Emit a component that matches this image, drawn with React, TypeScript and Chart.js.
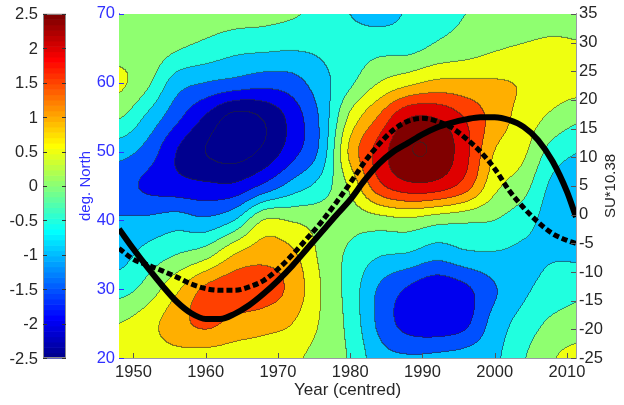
import React, { useEffect, useRef } from 'react';
import { Chart, registerables } from 'chart.js';

Chart.register(...registerables);

// ---------- data ----------
// grid of the contoured field (columns = years, rows = latitude)
const YEARS = [1948, 1952, 1956, 1960, 1964, 1968, 1972, 1976, 1980, 1984, 1988, 1992, 1996, 2000, 2004, 2008, 2012];
const LATS = [70, 65, 60, 55, 50, 45, 40, 35, 30, 25, 20];

const F70 = [0.25, 0.3, 0.3, 0.25, 0.2, 0.15, 0.05, -0.15, -0.5, -0.65, -0.45, -0.15, 0.0, 0.2, 0.25, 0.3, 0.3];
const F65 = [0.3, 0.3, 0.05, -0.15, -0.35, -0.4, -0.45, -0.4, -0.25, -0.15, -0.15, 0.1, 0.25, 0.45, 0.55, 0.6, 0.55];
const F60 = [0.6, 0.1, -0.75, -1.0, -1.15, -1.3, -1.2, -0.7, -0.1, 0.5, 0.85, 1.1, 1.1, 1.05, 0.95, 0.75, 0.7];
const F55 = [0.05, -0.6, -1.35, -2.05, -2.65, -2.45, -1.8, -0.9, 0.6, 1.55, 2.45, 2.45, 1.95, 1.3, 0.8, 0.4, 0.1];
const F50 = [-0.8, -1.2, -2.0, -2.5, -2.7, -2.4, -1.7, -0.85, 1.1, 2.2, 2.95, 2.9, 2.15, 1.0, 0.6, -0.2, -0.5];
const F45 = [-1.3, -1.6, -1.8, -1.9, -1.9, -1.4, -0.8, -0.3, 0.6, 1.85, 2.35, 2.3, 1.75, 0.65, 0.2, -0.6, -0.75];
const F40 = [-0.95, -0.9, -0.75, -0.9, -0.5, 0.5, 0.45, 0.3, 0.2, 0.3, 0.4, 0.2, 0.1, 0.0, -0.3, -0.7, -0.8];
const F35 = [-0.7, -0.3, 0.0, 0.3, 1.0, 1.3, 1.1, 0.4, -0.1, -0.45, -0.55, -0.8, -0.6, -0.55, -0.6, -0.55, -0.6];
const F30 = [-0.2, 0.2, 0.9, 1.6, 1.8, 1.75, 1.35, 0.5, -0.2, -1.05, -1.55, -1.85, -1.6, -1.05, -0.6, -0.3, -0.1];
const F25 = [0.5, 0.8, 1.3, 1.6, 1.35, 1.2, 1.0, 0.45, -0.15, -1.1, -1.7, -1.85, -1.6, -0.8, -0.3, 0.1, 0.2];
const F20 = [0.8, 0.8, 0.85, 0.8, 0.75, 0.7, 0.6, 0.3, -0.05, -0.8, -0.95, -0.9, -0.8, -0.6, -0.05, 0.45, 0.7];
const FIELD = [F70, F65, F60, F55, F50, F45, F40, F35, F30, F25, F20];

// SU index curves (right axis)
const LINE_YEARS = [1948, 1950, 1952, 1954, 1956, 1958, 1960, 1962, 1964, 1966, 1968, 1970, 1972, 1974, 1976, 1978,
  1980, 1982, 1984, 1986, 1988, 1990, 1992, 1994, 1996, 1998, 2000, 2002, 2004, 2006, 2008, 2010, 2011.25];
const SOLID = [-2.5, -6.0, -9.3, -12.4, -15.2, -17.2, -18.2, -18.2, -17.3, -15.8, -13.8, -11.5, -8.9, -6.0, -3.1, -0.2,
  2.6, 6.0, 8.9, 11.0, 12.5, 14.0, 15.2, 16.0, 16.6, 17.0, 17.0, 16.5, 15.3, 13.0, 9.3, 4.0, -0.4];
const DASHED = [-5.9, -7.8, -8.8, -9.8, -10.9, -12.1, -12.9, -13.2, -13.2, -12.6, -11.5, -9.5, -7.0, -4.2, -1.3, 2.0,
  5.5, 9.2, 12.3, 14.8, 16.3, 16.8, 16.3, 15.2, 13.3, 11.0, 8.0, 4.2, 1.2, -1.3, -3.3, -4.5, -5.0];

const X_TICKS = [1950, 1960, 1970, 1980, 1990, 2000, 2010];
const LAT_TICKS = [20, 30, 40, 50, 60, 70];
const SU_TICKS = [-25, -20, -15, -10, -5, 0, 5, 10, 15, 20, 25, 30, 35];
const CBAR_TICKS = [2.5, 2, 1.5, 1, 0.5, 0, -0.5, -1, -1.5, -2, -2.5];
const C_MIN = -2.5;
const C_MAX = 2.5;
const LEVEL_STEP = 0.5;

// ---------- helpers ----------
const FONT = "'Liberation Sans', Arial, Helvetica, sans-serif";
const TEXT = '#262626';
const BLUE = '#3030ff';

function jetU(k: number) {
  if (k <= 16) return k / 16;
  if (k <= 31) return 1;
  return (48 - k) / 16;
}
function jet64(i: number): [number, number, number] {
  const r = i >= 25 ? jetU(i - 24) : 0;
  const g = i >= 9 && i <= 55 ? jetU(i - 8) : 0;
  const b = i <= 39 ? jetU(i + 8) : 0;
  return [Math.round(r * 255), Math.round(g * 255), Math.round(b * 255)];
}
function levelColor(level: number): [number, number, number] {
  let idx = Math.floor(((level - C_MIN) / (C_MAX - C_MIN)) * 64 + 1e-9) + 1;
  idx = Math.max(1, Math.min(64, idx));
  return jet64(idx);
}

function cr(p0: number, p1: number, p2: number, p3: number, t: number) {
  return p1 + 0.5 * t * (p2 - p0 + t * (2 * p0 - 5 * p1 + 4 * p2 - p3 + t * (3 * (p1 - p2) + p3 - p0)));
}
function sampleField(year: number, lat: number) {
  const nx = YEARS.length;
  const ny = LATS.length;
  const gx = (year - YEARS[0]) / (YEARS[1] - YEARS[0]);
  const gy = (LATS[0] - lat) / (LATS[0] - LATS[1]);
  const ix = Math.floor(gx);
  const iy = Math.floor(gy);
  const tx = gx - ix;
  const ty = gy - iy;
  const get = (r: number, c: number) =>
    FIELD[Math.max(0, Math.min(ny - 1, r))][Math.max(0, Math.min(nx - 1, c))];
  const rows: number[] = [];
  for (let k = -1; k <= 2; k++) {
    rows.push(cr(get(iy + k, ix - 1), get(iy + k, ix), get(iy + k, ix + 1), get(iy + k, ix + 2), tx));
  }
  return cr(rows[0], rows[1], rows[2], rows[3], ty);
}

const contourPlugin = {
  id: 'contourField',
  beforeDatasetsDraw(chart: any) {
    const { ctx, chartArea: a, scales } = chart;
    const xs = scales.x;
    const ys = scales.y;
    const w = Math.round(a.right - a.left);
    const h = Math.round(a.bottom - a.top);
    const off = document.createElement('canvas');
    off.width = w;
    off.height = h;
    const octx = off.getContext('2d')!;
    const img = octx.createImageData(w, h);
    const lev = new Int16Array(w * h);
    for (let py = 0; py < h; py++) {
      const lat = ys.getValueForPixel(a.top + py + 0.5);
      for (let px = 0; px < w; px++) {
        const year = xs.getValueForPixel(a.left + px + 0.5);
        const v = sampleField(year, lat);
        lev[py * w + px] = Math.floor(v / LEVEL_STEP);
      }
    }
    const cache: Record<number, [number, number, number]> = {};
    for (let py = 0; py < h; py++) {
      for (let px = 0; px < w; px++) {
        const i = py * w + px;
        const L = lev[i];
        if (!cache[L]) cache[L] = levelColor(Math.max(C_MIN, Math.min(C_MAX, L * LEVEL_STEP)));
        let [r, g, b] = cache[L];
        const edge = (px < w - 1 && lev[i + 1] !== L) || (py < h - 1 && lev[i + w] !== L);
        if (edge) {
          const k = 0.55;
          r = r * (1 - k) + 40 * k;
          g = g * (1 - k) + 40 * k;
          b = b * (1 - k) + 40 * k;
        }
        img.data[i * 4] = r;
        img.data[i * 4 + 1] = g;
        img.data[i * 4 + 2] = b;
        img.data[i * 4 + 3] = 255;
      }
    }
    octx.putImageData(img, 0, 0);
    ctx.drawImage(off, a.left, a.top);
  },
};

const decorPlugin = {
  id: 'decor',
  afterDraw(chart: any) {
    const { ctx, chartArea: a, scales } = chart;
    ctx.save();
    // colorbar
    const cbL = 43;
    const cbR = 66;
    const span = a.bottom - a.top;
    for (let i = 1; i <= 64; i++) {
      const [r, g, b] = jet64(i);
      const y0 = a.bottom - (i / 64) * span;
      const y1 = a.bottom - ((i - 1) / 64) * span;
      ctx.fillStyle = `rgb(${r},${g},${b})`;
      ctx.fillRect(cbL, y0, cbR - cbL, y1 - y0 + 0.6);
    }
    ctx.strokeStyle = '#8a8a8a';
    ctx.lineWidth = 1;
    ctx.strokeRect(cbL + 0.5, a.top + 0.5, cbR - cbL - 1, span - 1);
    ctx.font = `16.5px ${FONT}`;
    ctx.fillStyle = TEXT;
    ctx.textAlign = 'right';
    ctx.textBaseline = 'middle';
    ctx.strokeStyle = '#333';
    CBAR_TICKS.forEach((v) => {
      const y = a.bottom - ((v - C_MIN) / (C_MAX - C_MIN)) * span;
      ctx.fillText(String(v), 38, y + 1);
      const yy = Math.round(y) + 0.5;
      ctx.beginPath();
      ctx.moveTo(cbL, yy); ctx.lineTo(cbL + 4, yy);
      ctx.moveTo(cbR, yy); ctx.lineTo(cbR - 4, yy);
      ctx.stroke();
    });

    // inward tick marks
    ctx.lineWidth = 1;
    ctx.strokeStyle = '#555';
    X_TICKS.forEach((v) => {
      const p = Math.round(scales.x.getPixelForValue(v)) + 0.5;
      ctx.beginPath(); ctx.moveTo(p, a.bottom); ctx.lineTo(p, a.bottom - 5); ctx.stroke();
    });
    SU_TICKS.forEach((v) => {
      const p = Math.round(scales.y1.getPixelForValue(v)) + 0.5;
      ctx.beginPath(); ctx.moveTo(a.right, p); ctx.lineTo(a.right - 5, p); ctx.stroke();
    });
    ctx.strokeStyle = BLUE;
    LAT_TICKS.forEach((v) => {
      const p = Math.round(scales.y.getPixelForValue(v)) + 0.5;
      ctx.beginPath(); ctx.moveTo(a.left, p); ctx.lineTo(a.left + 5, p); ctx.stroke();
    });

    // right axis title (reads bottom to top)
    ctx.translate(611, (a.top + a.bottom) / 2);
    ctx.rotate(-Math.PI / 2);
    ctx.font = `15px ${FONT}`;
    ctx.fillStyle = TEXT;
    ctx.textAlign = 'center';
    ctx.textBaseline = 'middle';
    ctx.fillText('SU*10.38', 0, 0);
    ctx.restore();
  },
};

export default function App() {
  const ref = useRef<HTMLCanvasElement | null>(null);
  useEffect(() => {
    document.body.style.margin = '0';
    const canvas = ref.current;
    if (!canvas) return;
    const solidData = LINE_YEARS.map((x, i) => ({ x, y: SOLID[i] }));
    const dashedData = LINE_YEARS.map((x, i) => ({ x, y: DASHED[i] }));
    const chart = new Chart(canvas, {
      type: 'line',
      data: {
        datasets: [
          {
            data: solidData,
            yAxisID: 'y1',
            borderColor: '#000',
            borderWidth: 6,
            pointRadius: 0,
            cubicInterpolationMode: 'monotone',
            borderCapStyle: 'butt',
            clip: 0,
          } as any,
          {
            data: dashedData,
            yAxisID: 'y1',
            borderColor: '#000',
            borderWidth: 5,
            borderDash: [6, 3],
            pointRadius: 0,
            cubicInterpolationMode: 'monotone',
            borderCapStyle: 'butt',
            clip: 0,
          } as any,
        ],
      },
      options: {
        responsive: false,
        animation: false,
        events: [],
        layout: { padding: { left: 70, right: 0, top: 12, bottom: 0 } },
        plugins: { legend: { display: false }, tooltip: { enabled: false } },
        scales: {
          x: {
            type: 'linear',
            position: 'bottom',
            min: 1948,
            max: 2011.25,
            afterBuildTicks: (s: any) => { s.ticks = X_TICKS.map((value) => ({ value })); },
            afterFit: (s: any) => { s.height = 47; },
            grid: { display: false, drawTicks: false },
            border: { display: true, color: '#9a9aa6', width: 1 },
            ticks: {
              padding: 5,
              color: TEXT,
              font: { family: FONT, size: 16.5 },
              maxRotation: 0,
              autoSkip: false,
              callback: (v: any) => String(v),
            },
            title: {
              display: true,
              text: 'Year (centred)',
              color: TEXT,
              font: { family: FONT, size: 17 },
              padding: { top: 0, bottom: 4 },
            },
          },
          y: {
            type: 'linear',
            position: 'left',
            min: 20,
            max: 70,
            afterBuildTicks: (s: any) => { s.ticks = LAT_TICKS.map((value) => ({ value })); },
            afterFit: (s: any) => { s.width = 49; },
            grid: { display: false, drawTicks: false },
            border: { display: true, color: '#7a7aff', width: 1 },
            ticks: { padding: 4, color: BLUE, font: { family: FONT, size: 16.5 }, callback: (v: any) => String(v) },
            title: {
              display: true,
              text: 'deg. North',
              color: BLUE,
              font: { family: FONT, size: 15 },
              padding: { top: 7, bottom: 0 },
            },
          },
          y1: {
            type: 'linear',
            position: 'right',
            min: -25,
            max: 35,
            afterBuildTicks: (s: any) => { s.ticks = SU_TICKS.map((value) => ({ value })); },
            afterFit: (s: any) => { s.width = 48; },
            grid: { display: false, drawTicks: false },
            border: { display: true, color: '#9a9aa6', width: 1 },
            ticks: { padding: 3, color: TEXT, font: { family: FONT, size: 16.5 }, callback: (v: any) => String(v) },
          },
        },
      },
      plugins: [contourPlugin, decorPlugin],
    });
    return () => chart.destroy();
  }, []);
  return (
    <div style={{ width: 624, height: 405, background: '#fff' }}>
      <canvas ref={ref} width={624} height={405} style={{ display: 'block' }} />
    </div>
  );
}
